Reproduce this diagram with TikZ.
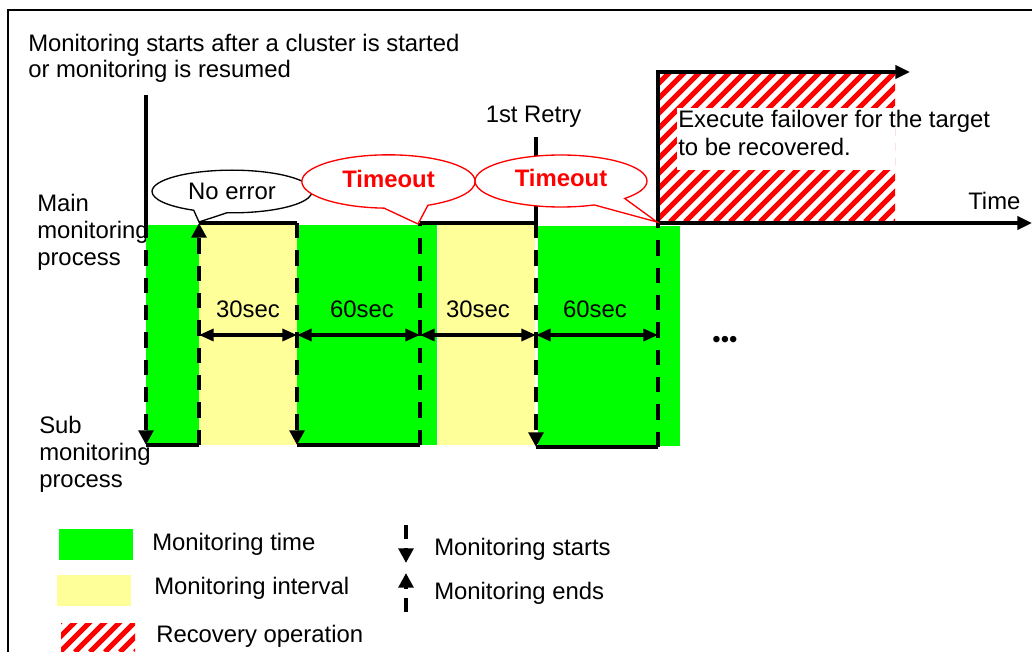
\documentclass[tikz,border=0pt]{standalone}
\usepackage{fontspec}
\setmainfont{Liberation Sans}
\usetikzlibrary{arrows.meta,shapes.callouts}
\definecolor{mongreen}{RGB}{0,255,0}
\definecolor{monyellow}{RGB}{255,255,153}
\definecolor{recred}{RGB}{255,0,0}
\begin{document}
\begin{tikzpicture}[x=0.75pt,y=-0.75pt,
  lbl/.style={font=\fontsize{17.9}{20}\selectfont, inner sep=0pt, anchor=base west},
  lblc/.style={font=\fontsize{17.9}{20}\selectfont, inner sep=0pt, anchor=base},
  frameline/.style={line width=1.5pt},
  solidline/.style={line width=2.5pt},
  dashline/.style={line width=3pt, dash pattern=on 11.5pt off 9pt},
  legdash/.style={line width=3pt, dash pattern=on 10.5pt off 7pt},
  tipped/.style={-{Triangle[length=11pt,width=11pt]}},
  axisarrow/.style={line width=2.5pt,-{Triangle[length=11pt,width=10pt]}},
  dbl/.style={line width=2.5pt,{Triangle[length=11pt,width=9pt]}-{Triangle[length=11pt,width=9pt]}},
  greenbox/.style={fill=mongreen},
  yellowbox/.style={fill=monyellow},
  hatchline/.style={recred, line width=3.8pt},
  bubble/.style={ellipse callout, draw, fill=white, line width=1pt, inner sep=0pt,
    font=\fontsize{17.9}{20}\selectfont},
  redbubble/.style={bubble, draw=recred, text=recred, text depth=4.5pt,
    font=\fontsize{17.9}{20}\selectfont\bfseries},
]
\useasboundingbox (0,0) rectangle (1032,652);

% outer frame
\coordinate (fbl) at (8,652);
\coordinate (ftl) at (8,10);
\coordinate (ftr) at (1032,10);
\draw[frameline] (fbl) -- (ftl) -- (ftr);

% side labels (drawn beneath the fills)
\node[lbl] (intro1) at (28,52) {Monitoring starts after a cluster is started};
\node[lbl] (intro2) at (28,78) {or monitoring is resumed};
\node[lbl] (main1) at (37,212) {Main};
\node[lbl] (main2) at (37,239) {monitoring};
\node[lbl] (main3) at (37,266) {process};
\node[lbl] (sub1) at (39,433) {Sub};
\node[lbl] (sub2) at (39,460) {monitoring};
\node[lbl] (sub3) at (39,487) {process};

% fills
\fill[greenbox] (146,225) rectangle (199,445);
\fill[yellowbox] (199,225) rectangle (297,445);
\fill[greenbox] (297,225) rectangle (437,445);
\fill[yellowbox] (438,225) rectangle (535,445);
\fill[greenbox] (538,226) rectangle (680,446);

% recovery hatch
\begin{scope}
  \clip (658,73) rectangle (895,222);
  \foreach \i in {505,520,...,900} \draw[hatchline] (\i,222) -- ++(150,-150);
\end{scope}
\fill[white] (677,108) rectangle (895,170);

% key points
\coordinate (a0) at (146,95);
\coordinate (t0) at (146,223);  \coordinate (b0) at (146,445);
\coordinate (t1) at (199,223);  \coordinate (b1) at (199,445);
\coordinate (t2) at (297,223);  \coordinate (b2) at (297,445);
\coordinate (t3) at (420,223);  \coordinate (b3) at (420,445);
\coordinate (t4) at (536,223);  \coordinate (b4) at (536,447);
\coordinate (t5) at (658,223);  \coordinate (b5) at (658,447);
\coordinate (r4) at (536,137);
\coordinate (tend) at (1032,223);
\coordinate (h5) at (658,72);
\coordinate (hend) at (910,72);
\coordinate (d1) at (199,335); \coordinate (d2) at (297,335);
\coordinate (d3) at (420,335); \coordinate (d4) at (536,335);
\coordinate (d5) at (658,335);

% solid lines
\draw[solidline] (a0) -- (t0);
\draw[solidline] (r4) -- (t4);
\draw[solidline] (t1) -- (t2);
\draw[solidline] (t3) -- (t4);
\draw[solidline] (b0) -- (b1);
\draw[solidline] (b2) -- (b3);
\draw[solidline] (b4) -- (b5);
\draw[axisarrow] (t5) -- (tend);
\draw[axisarrow] (t5) -- (h5) -- (hend);

% dashed start/end markers
\draw[dashline,tipped] (t0) -- (b0);
\draw[dashline,tipped] (b1) -- (t1);
\draw[dashline,tipped] (t2) -- (b2);
\draw[dashline] (b3) -- (t3);
\draw[dashline,tipped] (t4) -- (b4);
\draw[dashline] (b5) -- (t5);

% durations
\draw[dbl] (d1) -- (d2);
\draw[dbl] (d2) -- (d3);
\draw[dbl] (d3) -- (d4);
\draw[dbl] (d4) -- (d5);
\node[lblc] (s1) at (248,318) {30sec};
\node[lblc] (s2) at (362,318) {60sec};
\node[lblc] (s3) at (478,318) {30sec};
\node[lblc] (s4) at (595,318) {60sec};
\node[font=\fontsize{17.9}{20}\selectfont, inner sep=0pt] (dots) at (725,342) {•••};

% callouts
\node[bubble, minimum width=120pt, minimum height=32pt,
  callout absolute pointer={(199,222)}, callout pointer arc=25] (noerr) at (232,191.5) {No error};
\node[redbubble, minimum width=130pt, minimum height=40pt,
  callout absolute pointer={(418,224)}, callout pointer arc=30] (to1) at (388.5,181.5) {Timeout};
\node[redbubble, minimum width=129pt, minimum height=39pt,
  callout absolute pointer={(657,222)}, callout pointer arc=25] (to2) at (561,181) {Timeout};

% other labels
\node[lblc] (retry) at (533.5,123) {1st Retry};
\node[lbl] (exec1) at (678,128) {Execute failover for the target};
\node[lbl] (exec2) at (678,156) {to be recovered.};
\node[lbl] (time) at (968,210) {Time};

% legend
\fill[greenbox] (59,529) rectangle (133,560);
\fill[yellowbox] (57,575) rectangle (131,606);
\begin{scope}
  \clip (61,623) rectangle (135,652);
  \foreach \i in {15,30,...,150} \draw[hatchline] (\i,652) -- ++(40,-40);
\end{scope}
\node[lbl] (lg1) at (152,550) {Monitoring time};
\node[lbl] (lg2) at (154,594) {Monitoring interval};
\node[lbl] (lg3) at (156,642) {Recovery operation};
\coordinate (ls1) at (406,525); \coordinate (le1) at (406,563);
\coordinate (ls2) at (406,612); \coordinate (le2) at (406,573);
\draw[legdash,tipped] (ls1) -- (le1);
\draw[legdash,tipped] (ls2) -- (le2);
\node[lbl] (lg4) at (434,555) {Monitoring starts};
\node[lbl] (lg5) at (434,599) {Monitoring ends};
\end{tikzpicture}
\end{document}
